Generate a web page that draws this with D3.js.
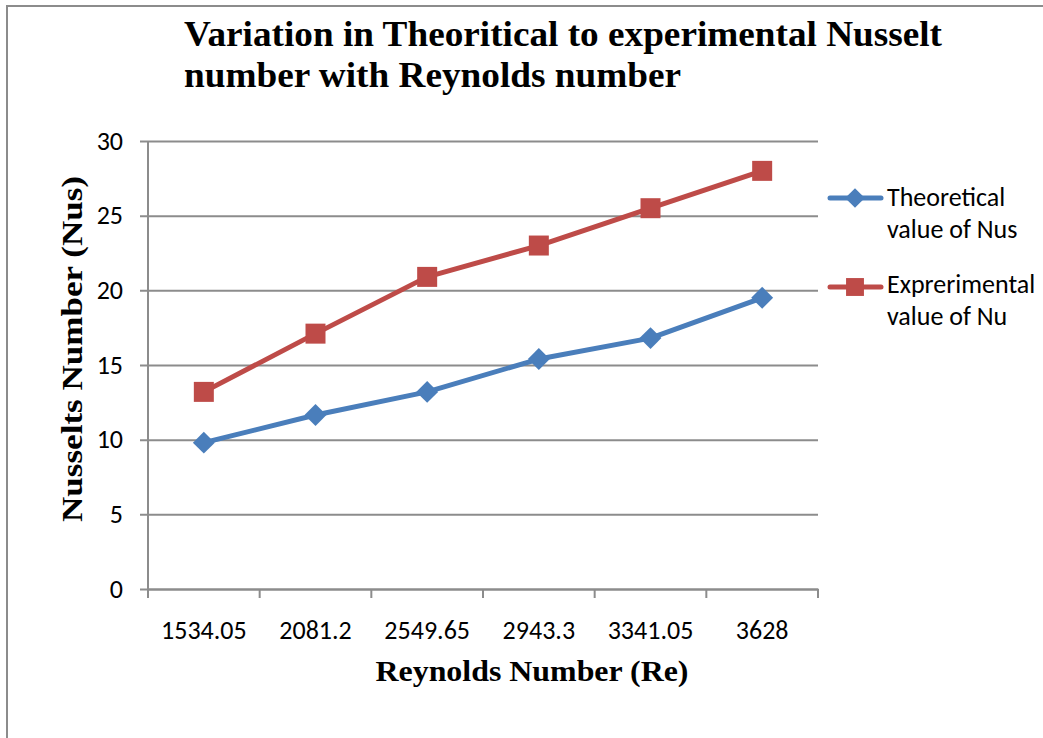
<!DOCTYPE html>
<html>
<head>
<meta charset="utf-8">
<script src="https://cdn.jsdelivr.net/npm/d3@7/dist/d3.min.js"></script>
<style>
  body { margin: 0; background: #fff; }
</style>
</head>
<body>
<svg id="chart" width="1043" height="738"></svg>
<script>
const reynolds = ["1534.05", "2081.2", "2549.65", "2943.3", "3341.05", "3628"]
const theoretical = [9.8, 11.65, 13.2, 15.4, 16.8, 19.5]
const experimental = [13.2, 17.1, 20.9, 23.0, 25.5, 28.0]
const yTicks = [0, 5, 10, 15, 20, 25, 30]
const seriesNames = [["Theoretical", "value of Nus"], ["Exprerimental", "value of Nu"]]

const W = 1043, H = 738
const plotL = 148, plotR = 818, plotT = 141, plotB = 589
const sans = "Carlito, 'Open Sans', 'Noto Sans', sans-serif"
const serif = "'Liberation Serif', 'DejaVu Serif', serif"
const blue = "#4a7ebb", red = "#be4b48", grid = "#8c8c8c"

const svg = d3.select("#chart")

// outer frame (only top and left are visible in the picture)
svg.append("path")
  .attr("d", `M7,${H + 5}V6H${W + 5}`)
  .attr("fill", "none").attr("stroke", grid).attr("stroke-width", 2)

const x = d3.scaleBand().domain(reynolds).range([plotL, plotR])
const y = d3.scaleLinear().domain([0, 30]).range([plotB, plotT])

// gridlines + y ticks
svg.append("g")
  .attr("transform", `translate(${plotL},0)`)
  .call(d3.axisLeft(y).tickValues(yTicks).tickSize(-(plotR - plotL)).tickPadding(25).tickFormat(d3.format("d")))
  .call(g => g.select(".domain").remove())
  .call(g => g.selectAll(".tick line").attr("stroke", grid).attr("stroke-width", 2).attr("x1", -8))
  .call(g => g.selectAll(".tick text").attr("font-family", sans).attr("font-size", 26).attr("fill", "#000"))

// y axis line
svg.append("line")
  .attr("x1", plotL).attr("x2", plotL).attr("y1", plotT).attr("y2", plotB + 8)
  .attr("stroke", grid).attr("stroke-width", 2)

// x axis
svg.append("g")
  .attr("transform", `translate(0,${plotB})`)
  .call(d3.axisBottom(x).tickSize(0))
  .call(g => g.select(".domain").attr("stroke", grid).attr("stroke-width", 2))
  .call(g => g.selectAll(".tick text")
    .attr("y", 50).attr("dy", null)
    .attr("font-family", sans).attr("font-size", 26).attr("fill", "#000"))

svg.append("g")
  .selectAll("line")
  .data(reynolds.concat([null]))
  .join("line")
  .attr("x1", (d, i) => plotL + i * x.bandwidth())
  .attr("x2", (d, i) => plotL + i * x.bandwidth())
  .attr("y1", plotB).attr("y2", plotB + 9)
  .attr("stroke", grid).attr("stroke-width", 2)

const cx = d => x(d) + x.bandwidth() / 2
const line = d3.line().x(d => cx(d[0])).y(d => y(d[1]))

const series = [
  { values: theoretical, color: blue, size: 240, rot: 45 },
  { values: experimental, color: red, size: 400, rot: 0 }
]

series.forEach(s => {
  const pts = reynolds.map((r, i) => [r, s.values[i]])
  svg.append("path")
    .attr("d", line(pts))
    .attr("fill", "none").attr("stroke", s.color).attr("stroke-width", 5)
    .attr("stroke-linejoin", "round").attr("stroke-linecap", "round")
  svg.append("g").selectAll("path")
    .data(pts)
    .join("path")
    .attr("transform", d => `translate(${cx(d[0])},${y(d[1])}) rotate(${s.rot})`)
    .attr("d", d3.symbol(d3.symbolSquare, s.size))
    .attr("fill", s.color)
})

// legend
const legend = svg.append("g")
series.forEach((s, i) => {
  const ly = i ? 287 : 198
  legend.append("line")
    .attr("x1", 830).attr("x2", 881).attr("y1", ly).attr("y2", ly)
    .attr("stroke", s.color).attr("stroke-width", 5).attr("stroke-linecap", "round")
  legend.append("path")
    .attr("transform", `translate(855,${ly}) rotate(${s.rot})`)
    .attr("d", d3.symbol(d3.symbolSquare, s.size * 0.8))
    .attr("fill", s.color)
  legend.append("text")
    .attr("font-family", sans).attr("font-size", 26).attr("fill", "#000")
    .selectAll("tspan")
    .data(seriesNames[i])
    .join("tspan")
    .attr("x", 887)
    .attr("y", (d, j) => ly + (i ? 6 : 8) + j * 32)
    .text(d => d)
})

// titles
svg.append("text")
  .attr("font-family", serif).attr("font-weight", "bold").attr("font-size", 35)
  .selectAll("tspan")
  .data(["Variation in Theoritical to experimental Nusselt", "number with Reynolds number"])
  .join("tspan")
  .attr("x", 184)
  .attr("y", (d, i) => 46 + i * 41)
  .attr("textLength", (d, i) => i ? 497 : 758)
  .attr("lengthAdjust", "spacingAndGlyphs")
  .text(d => d)

svg.append("text")
  .attr("x", 532).attr("y", 681)
  .attr("text-anchor", "middle")
  .attr("font-family", serif).attr("font-weight", "bold").attr("font-size", 29)
  .attr("textLength", 313).attr("lengthAdjust", "spacingAndGlyphs")
  .text("Reynolds Number (Re)")

svg.append("text")
  .attr("transform", "translate(82,349) rotate(-90)")
  .attr("text-anchor", "middle")
  .attr("font-family", serif).attr("font-weight", "bold").attr("font-size", 29)
  .attr("textLength", 346).attr("lengthAdjust", "spacingAndGlyphs")
  .text("Nusselts Number (Nus)")
</script>
</body>
</html>
